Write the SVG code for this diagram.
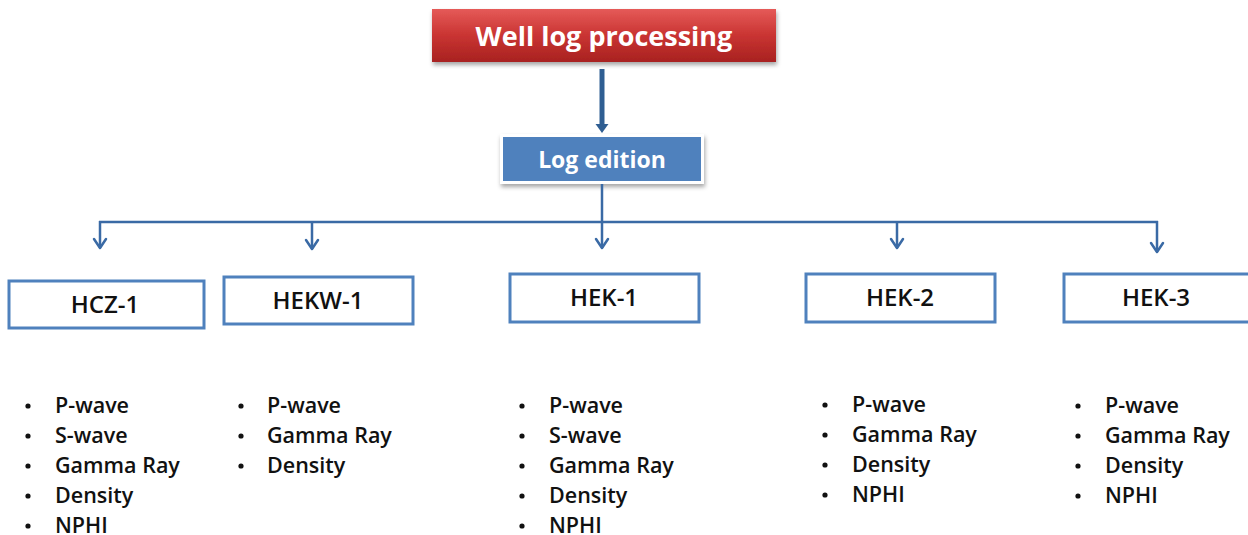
<svg xmlns="http://www.w3.org/2000/svg" width="1248" height="535" viewBox="0 0 1248 535">
  <defs>
    <linearGradient id="redFill" x1="0" y1="0" x2="0" y2="1">
      <stop offset="0" stop-color="#E55A58"/>
      <stop offset="0.5" stop-color="#C93432"/>
      <stop offset="1" stop-color="#A82220"/>
    </linearGradient>
    <filter id="shadow" x="-10%" y="-20%" width="120%" height="150%">
      <feDropShadow dx="1" dy="3" stdDeviation="2" flood-color="#000" flood-opacity="0.35"/>
    </filter>
    <!-- open V head pointing down, tip at origin -->
    <path id="vHead" d="M-6,-9 L0,0 L6,-9" fill="none" stroke="#3A6AA5" stroke-width="2.5" stroke-linecap="round" stroke-linejoin="round"/>
  </defs>
  <style>
    .title { font-family: "Open Sans", "Liberation Sans", sans-serif; font-weight: 700; fill: #fff; text-anchor: middle; }
    .well { fill: #fff; stroke: #4F81BD; stroke-width: 3; }
    .well-label { font-family: "Open Sans", "Liberation Sans", sans-serif; font-weight: 600; font-size: 24px; fill: #111; text-anchor: middle; }
    .item { font-family: "Open Sans", "Liberation Sans", sans-serif; font-weight: 600; font-size: 21.5px; fill: #111; }
    .bullet { fill: #111; }
    .link { fill: none; stroke: #3A6AA5; stroke-width: 2.5; }
  </style>
  <rect width="1248" height="535" fill="#fff"/>

  <!-- root node -->
  <g id="well-log-processing">
    <rect x="432" y="9" width="344" height="53" fill="url(#redFill)" filter="url(#shadow)"/>
    <text class="title" x="604" y="46" font-size="27">Well log processing</text>
  </g>

  <!-- second level -->
  <g id="log-edition">
    <rect x="500" y="134" width="204" height="50" fill="#fff" filter="url(#shadow)"/>
    <rect x="503" y="137" width="198" height="44" fill="#4F81BD"/>
    <text class="title" x="602" y="168" font-size="23">Log edition</text>
  </g>

  <!-- connectors -->
  <g id="connectors">
    <line x1="602" y1="69" x2="602" y2="126" stroke="#2F5E92" stroke-width="5"/>
    <path d="M595.5,124 L608.5,124 L602,133 Z" fill="#2F5E92"/>
    <line class="link" x1="602" y1="184" x2="602" y2="222"/>
    <line class="link" x1="99" y1="222" x2="1158" y2="222"/>
    <line class="link" x1="100" y1="221" x2="100" y2="248"/>
    <line class="link" x1="312" y1="221" x2="312" y2="249"/>
    <line class="link" x1="602" y1="222" x2="602" y2="248"/>
    <line class="link" x1="897" y1="221" x2="897" y2="248"/>
    <line class="link" x1="1157" y1="221" x2="1157" y2="252"/>
    <use href="#vHead" x="100" y="248"/>
    <use href="#vHead" x="312" y="249"/>
    <use href="#vHead" x="602" y="248"/>
    <use href="#vHead" x="897" y="248"/>
    <use href="#vHead" x="1157" y="252"/>
  </g>

  <!-- wells -->
  <g id="hcz-1">
    <rect class="well" x="9" y="281" width="195" height="47"/>
    <text class="well-label" x="105" y="313">HCZ-1</text>
    <g class="item">
      <circle class="bullet" cx="28" cy="406" r="2.6"/>
      <circle class="bullet" cx="28" cy="436" r="2.6"/>
      <circle class="bullet" cx="28" cy="466" r="2.6"/>
      <circle class="bullet" cx="28" cy="496" r="2.6"/>
      <circle class="bullet" cx="28" cy="526" r="2.6"/>
      <text x="55" y="413">P-wave</text>
      <text x="55" y="443">S-wave</text>
      <text x="55" y="473">Gamma Ray</text>
      <text x="55" y="503">Density</text>
      <text x="55" y="533">NPHI</text>
    </g>
  </g>

  <g id="hekw-1">
    <rect class="well" x="224" y="277" width="189" height="47"/>
    <text class="well-label" x="318" y="309">HEKW-1</text>
    <g class="item">
      <circle class="bullet" cx="241" cy="406" r="2.6"/>
      <circle class="bullet" cx="241" cy="436" r="2.6"/>
      <circle class="bullet" cx="241" cy="466" r="2.6"/>
      <text x="267" y="413">P-wave</text>
      <text x="267" y="443">Gamma Ray</text>
      <text x="267" y="473">Density</text>
    </g>
  </g>

  <g id="hek-1">
    <rect class="well" x="510" y="274" width="189" height="48"/>
    <text class="well-label" x="604" y="306">HEK-1</text>
    <g class="item">
      <circle class="bullet" cx="522" cy="406" r="2.6"/>
      <circle class="bullet" cx="522" cy="436" r="2.6"/>
      <circle class="bullet" cx="522" cy="466" r="2.6"/>
      <circle class="bullet" cx="522" cy="496" r="2.6"/>
      <circle class="bullet" cx="522" cy="526" r="2.6"/>
      <text x="549" y="413">P-wave</text>
      <text x="549" y="443">S-wave</text>
      <text x="549" y="473">Gamma Ray</text>
      <text x="549" y="503">Density</text>
      <text x="549" y="533">NPHI</text>
    </g>
  </g>

  <g id="hek-2">
    <rect class="well" x="806" y="274" width="189" height="48"/>
    <text class="well-label" x="900" y="306">HEK-2</text>
    <g class="item">
      <circle class="bullet" cx="825" cy="405" r="2.6"/>
      <circle class="bullet" cx="825" cy="435" r="2.6"/>
      <circle class="bullet" cx="825" cy="465" r="2.6"/>
      <circle class="bullet" cx="825" cy="495" r="2.6"/>
      <text x="852" y="412">P-wave</text>
      <text x="852" y="442">Gamma Ray</text>
      <text x="852" y="472">Density</text>
      <text x="852" y="502">NPHI</text>
    </g>
  </g>

  <g id="hek-3">
    <rect class="well" x="1064" y="274" width="189" height="48"/>
    <text class="well-label" x="1156" y="306">HEK-3</text>
    <g class="item">
      <circle class="bullet" cx="1078" cy="406" r="2.6"/>
      <circle class="bullet" cx="1078" cy="436" r="2.6"/>
      <circle class="bullet" cx="1078" cy="466" r="2.6"/>
      <circle class="bullet" cx="1078" cy="496" r="2.6"/>
      <text x="1105" y="413">P-wave</text>
      <text x="1105" y="443">Gamma Ray</text>
      <text x="1105" y="473">Density</text>
      <text x="1105" y="503">NPHI</text>
    </g>
  </g>
</svg>
